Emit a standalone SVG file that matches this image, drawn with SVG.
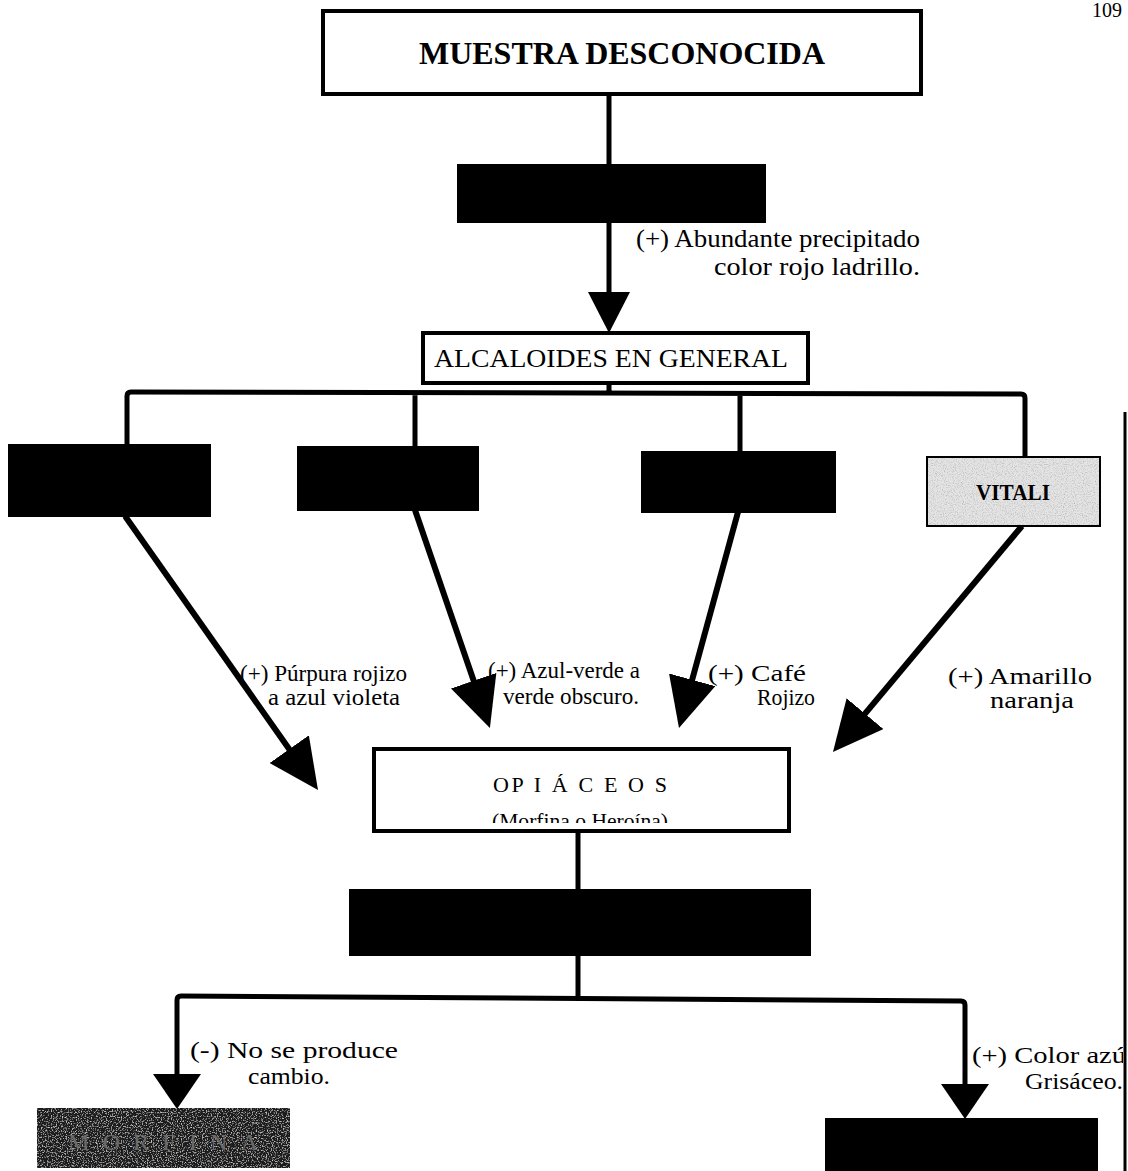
<svg xmlns="http://www.w3.org/2000/svg" width="1128" height="1171" viewBox="0 0 1128 1171">
<style>
text{font-family:"Liberation Serif","Times New Roman",serif;fill:#000}
.box{fill:#fff;stroke:#000;stroke-width:4}
.blk{fill:#000;stroke:#000;stroke-width:2}
.ln{fill:none;stroke:#000;stroke-width:5;stroke-linejoin:round}
.arr{fill:none;stroke:#000;stroke-width:6}
.lbl{font-size:24px}
</style>
<defs>
<marker id="ah" markerUnits="userSpaceOnUse" markerWidth="50" markerHeight="48" refX="42" refY="24" orient="auto">
<path d="M0,0 L50,24 L0,48 z" fill="#000"/>
</marker>
<filter id="lightnoise" x="0" y="0" width="100%" height="100%">
<feTurbulence type="fractalNoise" baseFrequency="0.9" numOctaves="2" seed="3" result="n"/>
<feColorMatrix in="n" type="matrix" values="0 0 0 0 0.45  0 0 0 0 0.45  0 0 0 0 0.45  0 0 0 -2.2 1.2" result="s"/>
<feComposite in="s" in2="SourceGraphic" operator="in" result="c"/>
<feMerge><feMergeNode in="SourceGraphic"/><feMergeNode in="c"/></feMerge>
</filter>
<filter id="darknoise" x="0" y="0" width="100%" height="100%">
<feTurbulence type="fractalNoise" baseFrequency="0.8" numOctaves="2" seed="7" result="n"/>
<feColorMatrix in="n" type="matrix" values="0 0 0 0 0.75  0 0 0 0 0.75  0 0 0 0 0.75  0 0 0 -2.5 1.2" result="s"/>
<feComposite in="s" in2="SourceGraphic" operator="in" result="c"/>
<feMerge><feMergeNode in="SourceGraphic"/><feMergeNode in="c"/></feMerge>
</filter>
<clipPath id="opclip"><rect x="376" y="751" width="412" height="72"/></clipPath>
<clipPath id="rclip"><rect x="0" y="0" width="1123" height="1171"/></clipPath>
</defs>
<rect width="1128" height="1171" fill="#fff"/>
<text x="1092" y="17" font-size="20">109</text>

<g id="connectors">
<line class="ln" x1="609" y1="95" x2="609" y2="165"/>
<line class="ln" x1="609" y1="222" x2="609" y2="300"/>
<path d="M588,292 L630,292 L609,333 z" fill="#000"/>
<path class="ln" d="M609,383 V393 M127,446 V396 Q127,392 131,392 L1021,394 Q1025,394 1025,398 V456 M415,393 V447 M740,394 V452"/>
<line class="arr" x1="125" y1="516" x2="313.4" y2="783.5" marker-end="url(#ah)"/>
<line class="arr" x1="415" y1="510" x2="487.3" y2="720.4" marker-end="url(#ah)"/>
<line class="arr" x1="738" y1="512" x2="681.1" y2="720.3" marker-end="url(#ah)"/>
<line class="arr" x1="1022" y1="526" x2="838.1" y2="745.9" marker-end="url(#ah)"/>
<line class="ln" x1="578" y1="832" x2="578" y2="890"/>
<path class="ln" d="M578,955 V997 M177,1080 V1000 Q177,996 181,996 L961,1001 Q965,1001 965,1005 V1090"/>
<path d="M153,1074 L201,1074 L177,1109 z" fill="#000"/>
<path d="M941,1084 L989,1084 L965,1119 z" fill="#000"/>
<line x1="1125" y1="412" x2="1125" y2="1171" stroke="#000" stroke-width="3"/>
</g>

<g id="n-muestra">
<rect class="box" x="323" y="11" width="598" height="83"/>
<text x="622" y="64" font-size="32" font-weight="bold" text-anchor="middle" textLength="406" lengthAdjust="spacingAndGlyphs">MUESTRA DESCONOCIDA</text>
</g>
<g id="n-test1"><rect class="blk" x="458" y="165" width="307" height="57"/></g>
<text x="636" y="247" font-size="25" textLength="284" lengthAdjust="spacingAndGlyphs">(+)  Abundante precipitado</text>
<text x="920" y="275" font-size="25" text-anchor="end" textLength="206" lengthAdjust="spacingAndGlyphs">color rojo ladrillo.</text>

<g id="n-alcaloides">
<rect class="box" x="423" y="333" width="385" height="50"/>
<text x="611" y="367" font-size="25" text-anchor="middle" textLength="354" lengthAdjust="spacingAndGlyphs">ALCALOIDES EN GENERAL</text>
</g>
<g id="n-a"><rect class="blk" x="9" y="445" width="201" height="71"/></g>
<g id="n-b"><rect class="blk" x="298" y="447" width="180" height="63"/></g>
<g id="n-c"><rect class="blk" x="642" y="452" width="193" height="60"/></g>
<g id="n-vitali">
<rect x="927" y="457" width="173" height="69" fill="#e4e4e4" filter="url(#lightnoise)"/>
<rect x="927" y="457" width="173" height="69" fill="none" stroke="#000" stroke-width="2"/>
<text x="1013" y="500" font-size="24" text-anchor="middle" font-weight="bold" textLength="74" lengthAdjust="spacingAndGlyphs">VITALI</text>
</g>

<text class="lbl" x="240" y="681" textLength="167" lengthAdjust="spacingAndGlyphs">(+) Púrpura rojizo</text>
<text class="lbl" x="268" y="705" textLength="132" lengthAdjust="spacingAndGlyphs">a azul violeta</text>
<text class="lbl" x="488" y="678" textLength="152" lengthAdjust="spacingAndGlyphs">(+) Azul-verde a</text>
<text class="lbl" x="503" y="704" textLength="136" lengthAdjust="spacingAndGlyphs">verde obscuro.</text>
<text class="lbl" x="708" y="681" textLength="98" lengthAdjust="spacingAndGlyphs">(+)  Café</text>
<text class="lbl" x="757" y="705" textLength="58" lengthAdjust="spacingAndGlyphs">Rojizo</text>
<text class="lbl" x="948" y="684" textLength="144" lengthAdjust="spacingAndGlyphs">(+) Amarillo</text>
<text class="lbl" x="990" y="708" textLength="84" lengthAdjust="spacingAndGlyphs">naranja</text>

<g id="n-opiaceos">
<rect class="box" x="374" y="749" width="415" height="82"/>
<text x="580" y="792" font-size="22" text-anchor="middle" textLength="174" lengthAdjust="spacing">OP I Á C E O S</text>
<text x="580" y="828" font-size="22" text-anchor="middle" clip-path="url(#opclip)" textLength="176" lengthAdjust="spacingAndGlyphs">(Morfina o Heroína)</text>
</g>
<g id="n-test2"><rect class="blk" x="350" y="890" width="460" height="65"/></g>

<text class="lbl" x="190" y="1058" textLength="208" lengthAdjust="spacingAndGlyphs">(-)  No se produce</text>
<text class="lbl" x="248" y="1084" textLength="82" lengthAdjust="spacingAndGlyphs">cambio.</text>
<g clip-path="url(#rclip)">
<text class="lbl" x="972" y="1063" textLength="162" lengthAdjust="spacingAndGlyphs">(+) Color azúl</text>
</g>
<text class="lbl" x="1025" y="1089" textLength="98" lengthAdjust="spacingAndGlyphs">Grisáceo.</text>

<g id="n-left">
<rect x="37" y="1108" width="253" height="60" fill="#1e1e1e" filter="url(#darknoise)"/>
<text x="163" y="1150" font-size="24" text-anchor="middle" style="fill:#6a6a6a" textLength="190" lengthAdjust="spacing">MORFINA</text>
</g>
<g id="n-right"><rect class="blk" x="826" y="1119" width="271" height="52"/></g>
</svg>
